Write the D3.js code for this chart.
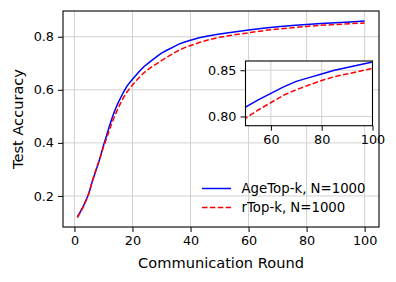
<!DOCTYPE html>
<html>
<head>
<meta charset="utf-8">
<script src="https://cdn.jsdelivr.net/npm/d3@7"></script>
<style>
  body { margin: 0; background: #fff; }
  svg { font-family: "DejaVu Sans", sans-serif; }
</style>
</head>
<body>
<div id="chart"></div>
<script>
const rounds = [1,2,3,4,5,6,7,8,9,10,11,12,13,14,15,16,17,18,19,20,22,24,26,28,30,32,34,36,38,40,43,46,50,55,60,65,70,75,80,85,90,95,100];
const ageTopK = [0.121,0.140,0.160,0.185,0.210,0.250,0.283,0.315,0.350,0.390,0.425,0.462,0.495,0.525,0.550,0.572,0.593,0.612,0.627,0.640,0.665,0.688,0.705,0.722,0.738,0.750,0.761,0.772,0.780,0.787,0.796,0.803,0.810,0.818,0.825,0.832,0.838,0.842,0.846,0.850,0.853,0.856,0.859];
const rTopK   = [0.118,0.137,0.158,0.182,0.212,0.250,0.285,0.318,0.350,0.385,0.415,0.447,0.478,0.505,0.530,0.552,0.573,0.590,0.605,0.618,0.643,0.665,0.682,0.696,0.710,0.724,0.737,0.749,0.759,0.767,0.778,0.788,0.798,0.807,0.815,0.823,0.829,0.834,0.839,0.843,0.846,0.849,0.852];

const xTicks = [0, 20, 40, 60, 80, 100];
const yTicks = [0.2, 0.4, 0.6, 0.8];
const insetXTicks = [60, 80, 100];
const insetYTicks = [0.80, 0.85];

const series = [
  {name: "AgeTop-k, N=1000", values: ageTopK, color: "#0000ff", dash: null},
  {name: "rTop-k, N=1000",   values: rTopK,   color: "#ff0000", dash: "5.5,2.4"}
];

const W = 396, H = 282;
const svg = d3.select("#chart").append("svg")
  .attr("width", W).attr("height", H);

const main = {left: 63, right: 379, top: 11, bottom: 227};
const x = d3.scaleLinear().domain([-3.95, 104.95]).range([main.left, main.right]);
const y = d3.scaleLinear().domain([0.083, 0.897]).range([main.bottom, main.top]);

function drawPanel(g, xs, ys, xt, yt, fmtX, fmtY, clipId, box) {
  // grid
  g.append("g").selectAll("line").data(xt).join("line")
    .attr("x1", d => xs(d)).attr("x2", d => xs(d))
    .attr("y1", box.top).attr("y2", box.bottom)
    .attr("stroke", "#d2d2d2").attr("stroke-width", 1);
  g.append("g").selectAll("line").data(yt).join("line")
    .attr("x1", box.left).attr("x2", box.right)
    .attr("y1", d => ys(d)).attr("y2", d => ys(d))
    .attr("stroke", "#d2d2d2").attr("stroke-width", 1);

  g.append("clipPath").attr("id", clipId).append("rect")
    .attr("x", box.left).attr("y", box.top)
    .attr("width", box.right - box.left).attr("height", box.bottom - box.top);

  const line = d3.line().x(d => xs(d[0])).y(d => ys(d[1]));
  series.forEach(s => {
    g.append("path")
      .datum(rounds.map((r, i) => [r, s.values[i]]))
      .attr("clip-path", `url(#${clipId})`)
      .attr("d", line)
      .attr("fill", "none")
      .attr("stroke", s.color)
      .attr("stroke-width", 1.5)
      .attr("stroke-dasharray", s.dash);
  });

  const xAxis = d3.axisBottom(xs).tickValues(xt).tickFormat(fmtX).tickSize(5).tickPadding(4);
  const yAxis = d3.axisLeft(ys).tickValues(yt).tickFormat(fmtY).tickSize(5).tickPadding(4);
  const ax = g.append("g").attr("transform", `translate(0,${box.bottom})`).call(xAxis);
  const ay = g.append("g").attr("transform", `translate(${box.left},0)`).call(yAxis);
  [ax, ay].forEach(a => {
    a.select(".domain").remove();
    a.selectAll("text").attr("fill", "#000").style("font-size", "12.8px").style("font-family", "DejaVu Sans");
    a.selectAll("line").attr("stroke", "#000").attr("stroke-width", 1);
  });

  g.append("rect")
    .attr("x", box.left).attr("y", box.top)
    .attr("width", box.right - box.left).attr("height", box.bottom - box.top)
    .attr("fill", "none").attr("stroke", "#000").attr("stroke-width", 1.1);
}

const gMain = svg.append("g");
drawPanel(gMain, x, y, xTicks, yTicks, d3.format("d"), d3.format(".1f"), "clipMain", main);

// axis labels
svg.append("text")
  .attr("x", (main.left + main.right) / 2).attr("y", 268)
  .attr("text-anchor", "middle").style("font-size", "14.6px")
  .text("Communication Round");
svg.append("text")
  .attr("transform", `translate(23,${(main.top + main.bottom) / 2}) rotate(-90)`)
  .attr("text-anchor", "middle").style("font-size", "14.6px")
  .text("Test Accuracy");

// legend (no frame)
const legend = svg.append("g");
series.forEach((s, i) => {
  const ly = 188.5 + i * 19;
  legend.append("line")
    .attr("x1", 202).attr("x2", 231).attr("y1", ly).attr("y2", ly)
    .attr("stroke", s.color).attr("stroke-width", 1.5)
    .attr("stroke-dasharray", s.dash);
  legend.append("text")
    .attr("x", 241.5).attr("y", ly).attr("dy", "0.36em")
    .style("font-size", "13.3px")
    .text(s.name);
});

// inset
const inset = {left: 245.5, right: 372.5, top: 61, bottom: 125.7};
const xi = d3.scaleLinear().domain([50, 100]).range([inset.left, inset.right]);
const yi = d3.scaleLinear().domain([0.79, 0.86]).range([inset.bottom, inset.top]);
const gInset = svg.append("g");
gInset.append("rect")
  .attr("x", inset.left).attr("y", inset.top)
  .attr("width", inset.right - inset.left).attr("height", inset.bottom - inset.top)
  .attr("fill", "#fff");
drawPanel(gInset, xi, yi, insetXTicks, insetYTicks, d3.format("d"), d3.format(".2f"), "clipInset", inset);
</script>
</body>
</html>
